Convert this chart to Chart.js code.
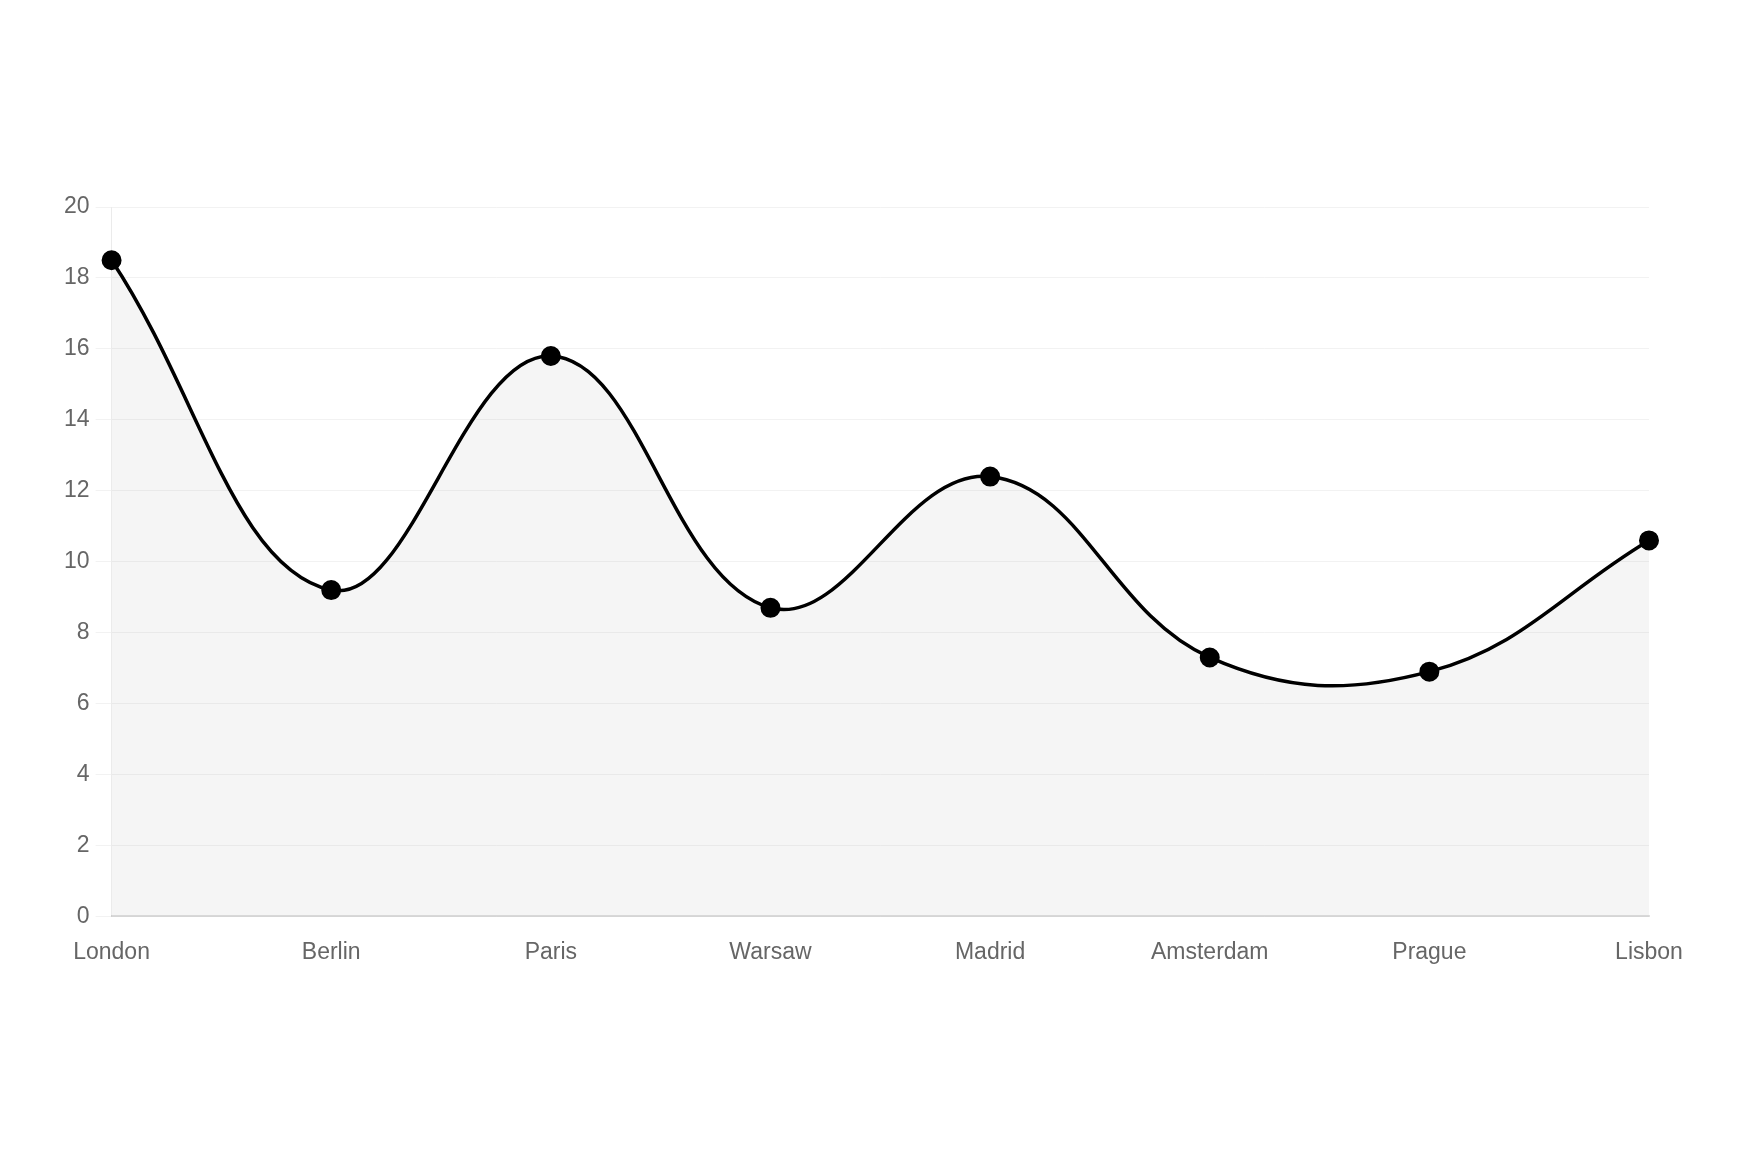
<!DOCTYPE html>
<html>
<head>
<meta charset="utf-8">
<script src="https://cdn.jsdelivr.net/npm/chart.js@4.4.1/dist/chart.umd.min.js"></script>
<style>
  html, body { margin: 0; padding: 0; background: #fff; }
  #wrap { position: relative; width: 1759px; height: 1163px; }
</style>
</head>
<body>
<div id="wrap"><canvas id="chart"></canvas></div>
<script>
// city values
const cities = ['London', 'Berlin', 'Paris', 'Warsaw', 'Madrid', 'Amsterdam', 'Prague', 'Lisbon'];
const values = [18.5, 9.2, 15.8, 8.7, 12.4, 7.3, 6.9, 10.6];
const yTicks = [0, 2, 4, 6, 8, 10, 12, 14, 16, 18, 20];

Chart.defaults.font.family = '"Liberation Sans", Arial, sans-serif';
Chart.defaults.font.size = 23;
Chart.defaults.color = '#666';

new Chart(document.getElementById('chart'), {
    type: 'line',
    data: {
        labels: cities,
        datasets: [{
            data: values,
            borderColor: '#000',
            borderWidth: 3.5,
            backgroundColor: 'rgba(0,0,0,0.04)',
            fill: true,
            tension: 0.4,
            pointRadius: 9,
            pointBackgroundColor: '#000',
            pointBorderColor: '#000',
            pointBorderWidth: 2
        }]
    },
    options: {
        responsive: true,
        maintainAspectRatio: false,
        animation: false,
        layout: { padding: { top: 207, left: 58, right: 110, bottom: 183 } },
        plugins: { legend: { display: false }, tooltip: { enabled: false } },
        scales: {
            x: {
                grid: { display: false, drawTicks: true, tickLength: 8 },
                border: { display: true, color: 'rgba(0,0,0,0.12)', width: 2 },
                ticks: { padding: 14, maxRotation: 0, autoSkip: false }
            },
            y: {
                min: 0,
                max: 20,
                afterBuildTicks: axis => { axis.ticks = yTicks.map(v => ({ value: v })); },
                grid: { color: 'rgba(0,0,0,0.05)', tickLength: 16 },
                border: { display: true, color: 'rgba(0,0,0,0.08)' },
                ticks: { padding: 6 }
            }
        }
    }
});
</script>
</body>
</html>
